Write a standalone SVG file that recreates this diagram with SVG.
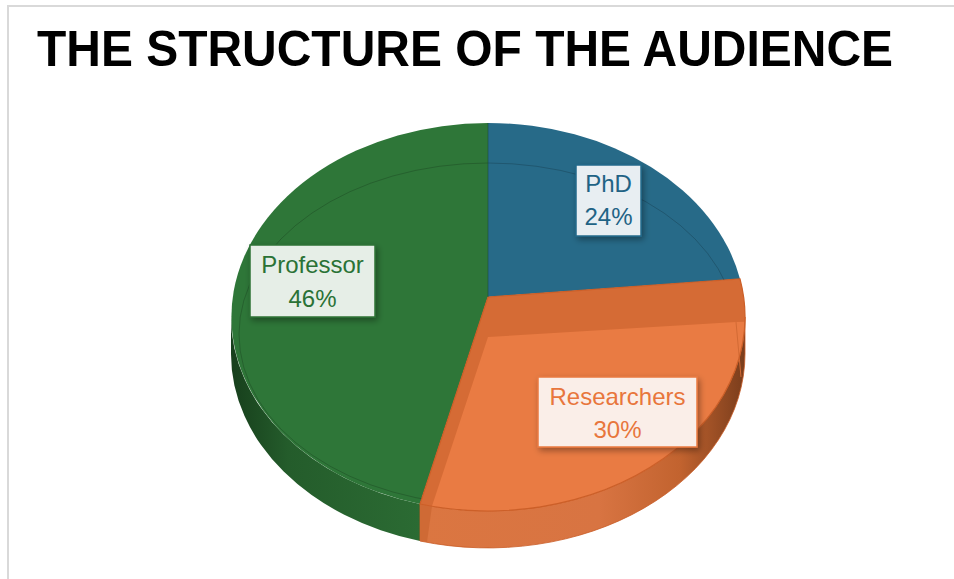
<svg xmlns="http://www.w3.org/2000/svg" width="954" height="579" viewBox="0 0 954 579">
  <style>
    .title { font-family: "Liberation Sans", Arial, sans-serif; font-weight: bold; font-size: 50px; fill: #000; }
    .lbl { font-family: "Liberation Sans", Arial, sans-serif; font-size: 24px; text-anchor: middle; }
    .bevel { fill: none; stroke: #000; stroke-opacity: 0.18; stroke-width: 1; }
  </style>
  <defs>
    <linearGradient id="gSide" gradientUnits="userSpaceOnUse" x1="231" y1="0" x2="420" y2="0">
      <stop offset="0" stop-color="#173f1c"/>
      <stop offset="0.3" stop-color="#245c2b"/>
      <stop offset="1" stop-color="#2b6b33"/>
    </linearGradient>
    <linearGradient id="oSide" gradientUnits="userSpaceOnUse" x1="420" y1="0" x2="745" y2="0">
      <stop offset="0" stop-color="#db7641"/>
      <stop offset="0.55" stop-color="#d87442"/>
      <stop offset="0.8" stop-color="#c2632f"/>
      <stop offset="1" stop-color="#7a3d1c"/>
    </linearGradient>
    <clipPath id="clipGB">
      <path d="M488,297 L488,123 A257,194 0 0 0 420,504 Z"/>
      <path d="M488,297 L488,123 A257,194 0 0 1 740,279 Z"/>
    </clipPath>
    <clipPath id="clipO">
      <path d="M488,297 L740,279 A257,194 0 0 1 420,504 Z"/>
    </clipPath>
    <filter id="shadow" x="-20%" y="-20%" width="150%" height="150%">
      <feDropShadow dx="2" dy="3" stdDeviation="3" flood-color="#000" flood-opacity="0.35"/>
    </filter>
  </defs>

  <rect x="0" y="0" width="954" height="579" fill="#ffffff"/>
  <path d="M8,579 L8,6 L954,6" fill="none" stroke="#d9d9d9" stroke-width="2"/>

  <text class="title" x="37" y="66" textLength="856" lengthAdjust="spacingAndGlyphs">THE STRUCTURE OF THE AUDIENCE</text>

  <g id="slice-professor">
    <path d="M231,317 A257,194 0 0 0 420,504 L420,541 A257,194 0 0 1 231,354 Z" fill="url(#gSide)"/>
    <path d="M488,297 L488,123 A257,194 0 0 0 420,504 Z" fill="#2e7638"/>
  </g>

  <g id="slice-phd">
    <path d="M488,297 L488,123 A257,194 0 0 1 740,279 Z" fill="#276a88"/>
  </g>

  <g id="slice-researchers">
    <path d="M420,504 A257,194 0 0 0 745,317 L745,354 A257,194 0 0 1 420,541 Z" fill="url(#oSide)" stroke="#c95c26" stroke-width="0.8"/>
    <path d="M420,504 L432,506 L427,542 L420,541 Z" fill="#cf6a35"/>
    <path d="M488,297 L740,279 A257,194 0 0 1 420,504 Z" fill="#e97b43"/>
    <path d="M488,297 L760,278 L760,321 L736,322 L488,337 L432,506 L410,506 Z" fill="#d56b35" clip-path="url(#clipO)"/>
    <path d="M736,322 L741,377" fill="none" stroke="#d36a34" stroke-width="1"/>
    <path d="M488,297 L740,279 A257,194 0 0 1 420,504 Z" fill="none" stroke="#cc5f28" stroke-width="1.2"/>
  </g>

  <g id="bevels">
    <ellipse class="bevel" cx="488" cy="334" rx="249" ry="171" clip-path="url(#clipGB)"/>
    <line x1="488" y1="123" x2="488" y2="297" stroke="#1d4e3a" stroke-opacity="0.6" stroke-width="1"/>
  </g>

  <g id="label-professor">
    <rect x="250" y="245" width="125" height="72" fill="#e6eee7" stroke="#2c7135" stroke-width="1.5" filter="url(#shadow)"/>
    <text class="lbl" x="312.5" y="273" fill="#2a7236">Professor</text>
    <text class="lbl" x="312.5" y="307" fill="#2a7236">46%</text>
  </g>

  <g id="label-phd">
    <rect x="576" y="165" width="65" height="71" fill="#e8eef2" stroke="#236a8a" stroke-width="1.5" filter="url(#shadow)"/>
    <text class="lbl" x="608.5" y="192" fill="#1f6385">PhD</text>
    <text class="lbl" x="608.5" y="225" fill="#1f6385">24%</text>
  </g>

  <g id="label-researchers">
    <rect x="538" y="377" width="159" height="70" fill="#faeee8" stroke="#e97a40" stroke-width="1.5" filter="url(#shadow)"/>
    <text class="lbl" x="617.5" y="405" fill="#e8763c">Researchers</text>
    <text class="lbl" x="617.5" y="438" fill="#e8763c">30%</text>
  </g>
</svg>
